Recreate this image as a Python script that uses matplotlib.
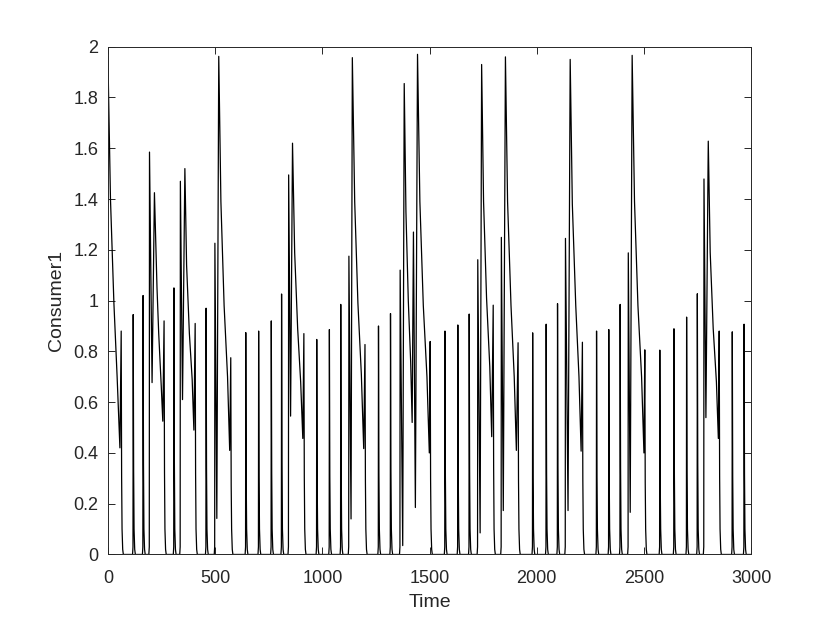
import matplotlib
matplotlib.use("Agg")
import matplotlib.pyplot as plt

plt.rcParams['font.family'] = ['Liberation Sans', 'DejaVu Sans']

# ==============================
# values
# ==============================
# single spikes: time, height
spike_t = [118, 164, 308, 458, 643, 703, 762, 810, 974, 1033, 1086, 1262, 1318,
           1572, 1632, 1685, 1981, 2044, 2097, 2279, 2336, 2389, 2574, 2640,
           2699, 2749, 2912, 2967]
spike_h = [0.945, 1.02, 1.05, 0.97, 0.874, 0.88, 0.92, 1.026, 0.847, 0.886,
           0.985, 0.90, 0.949, 0.88, 0.904, 0.947, 0.873, 0.907, 0.988, 0.88,
           0.886, 0.985, 0.805, 0.889, 0.935, 1.027, 0.877, 0.907]

# bursts: peak, dip, big peak, slow decay, last small spike
burst_t = [
    [0, 12, 28, 43, 56, 62],
    [194, 206, 217, 229, 237, 249, 256, 262],
    [338, 348, 359, 367, 380, 393, 401, 407],
    [499, 508, 517, 527, 542, 558, 568, 573],
    [843, 852, 861, 871, 885, 899, 909, 914],
    [1124, 1134, 1140, 1151, 1166, 1182, 1193, 1199],
    [1363, 1375, 1382, 1390, 1401, 1412, 1419, 1425, 1434, 1444, 1455, 1471, 1488, 1499, 1503],
    [1725, 1736, 1743, 1752, 1766, 1781, 1790, 1797],
    [1835, 1844, 1854, 1864, 1880, 1895, 1905, 1913],
    [2134, 2146, 2156, 2166, 2182, 2197, 2207, 2213],
    [2427, 2436, 2445, 2456, 2472, 2489, 2500, 2504],
    [2780, 2789, 2800, 2809, 2823, 2838, 2847, 2851],
]
burst_y = [
    [1.96, 1.40, 0.99, 0.70, 0.42, 0.88],
    [1.585, 0.677, 1.425, 1.05, 0.87, 0.66, 0.525, 0.92],
    [1.47, 0.61, 1.52, 1.14, 0.87, 0.69, 0.49, 0.91],
    [1.226, 0.142, 1.962, 1.39, 0.98, 0.70, 0.41, 0.775],
    [1.495, 0.545, 1.62, 1.19, 0.89, 0.68, 0.457, 0.87],
    [1.175, 0.14, 1.957, 1.39, 0.99, 0.71, 0.417, 0.827],
    [1.12, 0.035, 1.855, 1.35, 1.0, 0.76, 0.52, 1.27, 0.185, 1.97, 1.39, 0.98, 0.70, 0.40, 0.839],
    [1.161, 0.085, 1.93, 1.39, 1.01, 0.74, 0.464, 0.982],
    [1.249, 0.173, 1.96, 1.39, 0.98, 0.70, 0.41, 0.834],
    [1.245, 0.173, 1.95, 1.38, 0.98, 0.70, 0.407, 0.836],
    [1.188, 0.166, 1.966, 1.39, 0.98, 0.70, 0.40, 0.806],
    [1.479, 0.539, 1.628, 1.19, 0.89, 0.68, 0.457, 0.88],
]

t_end = 3000

# ==============================
# build the polyline
# ==============================
events = [([t], [h]) for t, h in zip(spike_t, spike_h)]
events += list(zip(burst_t, burst_y))
events.sort(key=lambda e: e[0][0])

xs, ys = [], []
for et, ey in events:
    if et[0] > 0:
        xs += [et[0] - 3, et[0] - 1]
        ys += [0, 0.03]
    xs += list(et)
    ys += list(ey)
    tl, hl = et[-1], ey[-1]
    xs += [tl + 2, tl + 4, tl + 7, tl + 10]
    ys += [0.35 * hl, 0.1, 0.02, 0]
xs.append(t_end)
ys.append(0)

# ==============================
# plot
# ==============================
fig = plt.figure(figsize=(8.3, 6.23), dpi=100)
ax = fig.add_axes([0.13, 0.11, 0.775, 0.815])
ax.plot(xs, ys, color='black', linewidth=0.9)

ax.set_xlim(0, 3000)
ax.set_ylim(0, 2)
ax.set_xticks([0, 500, 1000, 1500, 2000, 2500, 3000])
yt = [0, 0.2, 0.4, 0.6, 0.8, 1, 1.2, 1.4, 1.6, 1.8, 2]
ax.set_yticks(yt)
ax.set_yticklabels([f"{v:g}" for v in yt])

grey = '#262626'
for s in ax.spines.values():
    s.set_color(grey)
    s.set_linewidth(0.7)
ax.tick_params(direction='in', top=True, right=True, length=5, width=0.7,
               color=grey, labelcolor=grey, labelsize=13)
ax.tick_params(axis='x', pad=11)
ax.tick_params(axis='y', pad=7)
ax.set_xlabel("Time", fontsize=14, color=grey, labelpad=5)
ax.set_ylabel("Consumer1", fontsize=14, color=grey, labelpad=6)

fig.savefig("out.png", dpi=100)
